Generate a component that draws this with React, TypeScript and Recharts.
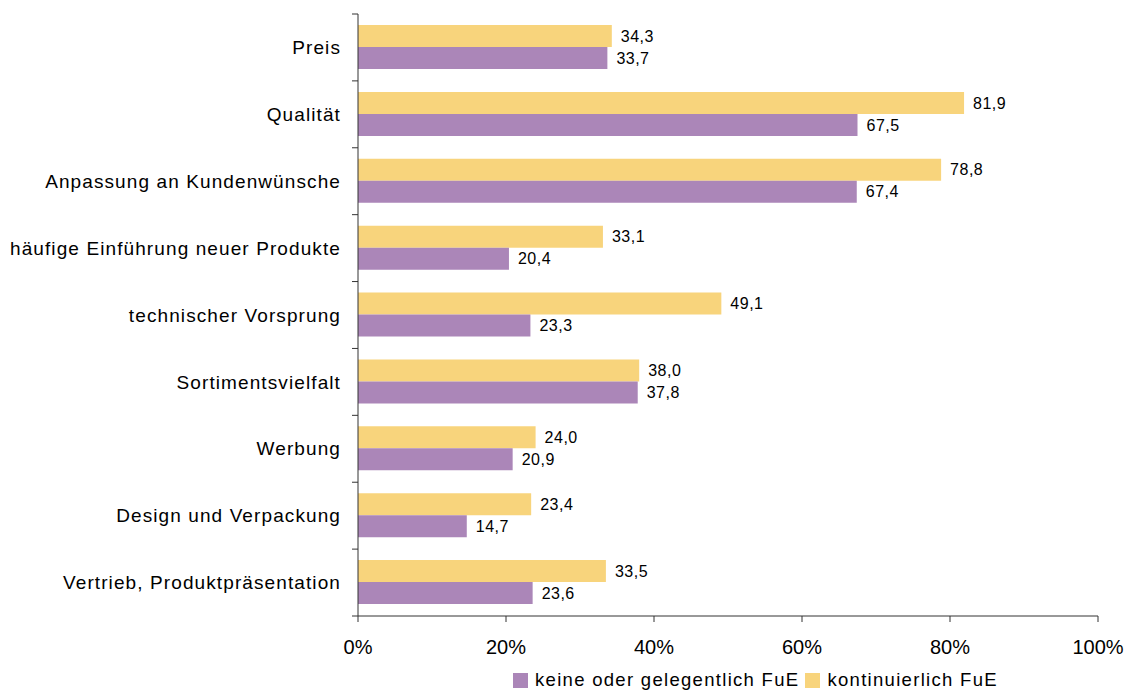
import { BarChart, Bar, XAxis, YAxis, Legend, LabelList } from 'recharts';

const categories = [
  'Preis',
  'Qualität',
  'Anpassung an Kundenwünsche',
  'häufige Einführung neuer Produkte',
  'technischer Vorsprung',
  'Sortimentsvielfalt',
  'Werbung',
  'Design und Verpackung',
  'Vertrieb, Produktpräsentation',
];
const kontinuierlich = [34.3, 81.9, 78.8, 33.1, 49.1, 38.0, 24.0, 23.4, 33.5];
const gelegentlich = [33.7, 67.5, 67.4, 20.4, 23.3, 37.8, 20.9, 14.7, 23.6];
const xTicks = [0, 20, 40, 60, 80, 100];

const data = categories.map((name, i) => ({ name, kont: kontinuierlich[i], keine: gelegentlich[i] }));

const YELLOW = '#F8D47C';
const PURPLE = '#AB86B8';
const AXIS = '#333';
const FONT = '"Liberation Sans", Arial, sans-serif';

const TOP = 14;
const BOTTOM = 616;
const BAND = (BOTTOM - TOP) / categories.length;

// category labels plus tick marks drawn on the band boundaries
function CategoryTick(props: any) {
  const { x, y, payload, index } = props;
  const axisX = 358;
  return (
    <g>
      <line x1={axisX - 6} x2={axisX} y1={y - BAND / 2} y2={y - BAND / 2} stroke={AXIS} />
      {index === categories.length - 1 && (
        <line x1={axisX - 6} x2={axisX} y1={y + BAND / 2} y2={y + BAND / 2} stroke={AXIS} />
      )}
      <text x={x} y={y} dy="0.35em" textAnchor="end" fill="#000" fontSize={19} letterSpacing={1.1} fontFamily={FONT}>
        {payload.value}
      </text>
    </g>
  );
}

const fmt = (v: any) => Number(v).toFixed(1).replace('.', ',');

function LegendBox() {
  const items = [
    { label: 'keine oder gelegentlich FuE', color: PURPLE },
    { label: 'kontinuierlich FuE', color: YELLOW },
  ];
  return (
    <div style={{ height: 22, lineHeight: '22px', paddingLeft: 513, display: 'flex', fontFamily: FONT, fontSize: 18.5, letterSpacing: 1.3, color: '#000' }}>
      {items.map((it) => (
        <div key={it.label} style={{ display: 'flex', alignItems: 'center', marginRight: 6 }}>
          <span style={{ display: 'inline-block', width: 15, height: 15, background: it.color, marginRight: 7 }} />
          <span>{it.label}</span>
        </div>
      ))}
    </div>
  );
}

export default function App() {
  return (
    <div style={{ position: 'fixed', top: 0, left: 0, width: 1128, height: 691, background: '#fff' }}>
      <BarChart
        width={1128}
        height={691}
        data={data}
        layout="vertical"
        margin={{ top: TOP, right: 30, bottom: 0, left: 0 }}
        barCategoryGap={11}
        barGap={0}
      >
        <XAxis
          type="number"
          domain={[0, 100]}
          ticks={xTicks}
          tickFormatter={(v) => `${v}%`}
          axisLine={{ stroke: AXIS }}
          tickLine={{ stroke: AXIS }}
          tickSize={6}
          tickMargin={18}
          height={53}
          tick={{ fill: '#000', fontSize: 20, fontFamily: FONT }}
        />
        <YAxis
          type="category"
          dataKey="name"
          width={358}
          axisLine={{ stroke: AXIS }}
          tickLine={false}
          tickSize={6}
          tickMargin={11}
          interval={0}
          tick={<CategoryTick />}
        />
        <Legend verticalAlign="bottom" content={<LegendBox />} />
        <Bar dataKey="kont" name="kontinuierlich FuE" fill={YELLOW} isAnimationActive={false}>
          <LabelList dataKey="kont" position="right" offset={9} formatter={fmt} fill="#000" fontSize={16} fontFamily={FONT} letterSpacing={0.5} />
        </Bar>
        <Bar dataKey="keine" name="keine oder gelegentlich FuE" fill={PURPLE} isAnimationActive={false}>
          <LabelList dataKey="keine" position="right" offset={9} formatter={fmt} fill="#000" fontSize={16} fontFamily={FONT} letterSpacing={0.5} />
        </Bar>
      </BarChart>
    </div>
  );
}
